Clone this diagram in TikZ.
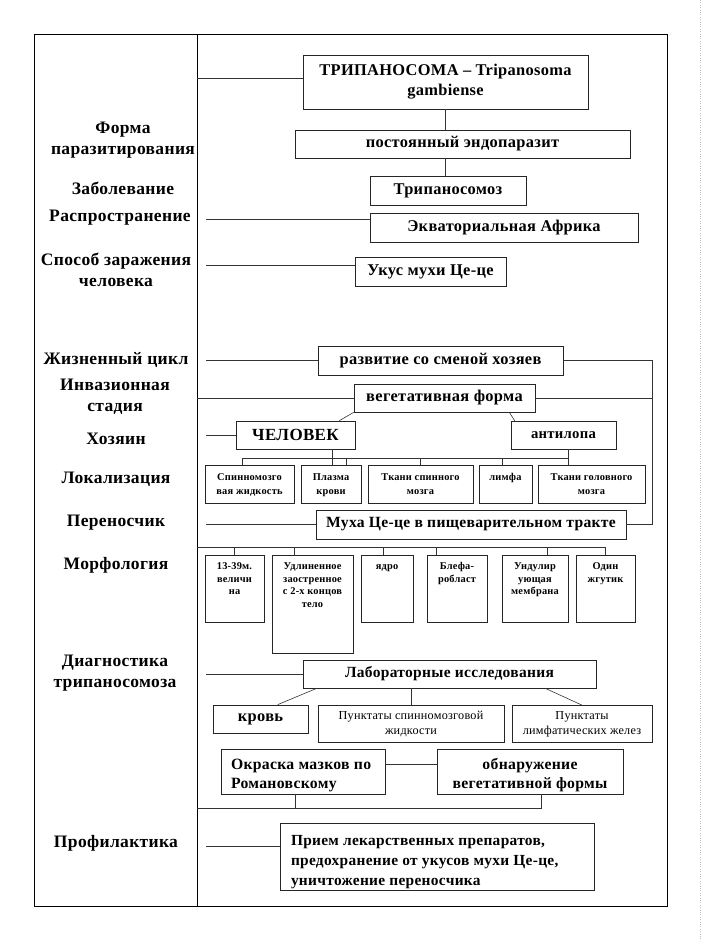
\documentclass[tikz,border=0pt]{standalone}
\usepackage{fontspec}
\setmainfont[LetterSpace=2]{Liberation Serif}
\usetikzlibrary{positioning}

\begin{document}
\begin{tikzpicture}[x=1pt,y=-1pt,
  lbl/.style={font=\fontsize{17.5}{21}\selectfont\bfseries,align=center,inner sep=0pt},
  box/.style={draw=black!85,line width=0.7pt,fill=white,inner sep=0pt,align=center,font=\fontsize{16.4}{20}\selectfont\bfseries},
  morphtext/.style={font=\fontsize{10.4}{12.5}\selectfont\bfseries,align=center,inner sep=0pt},
  loctext/.style={morphtext,font=\fontsize{10.4}{14.5}\selectfont\bfseries},
  thinbox/.style={box,font=\fontsize{12.2}{15}\selectfont},
  link/.style={draw=black!80,line width=0.6pt}]

\useasboundingbox (0,0) rectangle (708,948);

% frame and column
\draw[line width=0.8pt] (34,34) rectangle (667,906);
\draw[line width=0.8pt] (197,34) -- (197,906);
\draw[gray!50,dotted] (700,0) -- (700,940);

% left column
\node[lbl] (form) at (123,140) {Форма\\паразитирования};
\node[lbl] (illness) at (123,188) {Заболевание};
\node[lbl] (spreadlbl) at (120,218) {Распространение};
\node[lbl] (waylbl) at (116,270) {Способ заражения\\человека};
\node[lbl] (cyclelbl) at (116,360) {Жизненный цикл};
\node[lbl] (stagelbl) at (115,397) {Инвазионная\\стадия};
\node[lbl] (hostlbl) at (116,439) {Хозяин};
\node[lbl] (loclbl) at (116,479) {Локализация};
\node[lbl] (vectorlbl) at (116,523) {Переносчик};
\node[lbl] (morphlbl) at (116,565) {Морфология};
\node[lbl] (diaglbl) at (115,673) {Диагностика\\трипаносомоза};
\node[lbl] (proflbl) at (116,843) {Профилактика};

% top boxes
\node[box,minimum width=285pt,minimum height=54pt] (title) at (445.5,82) {ТРИПАНОСОМА – Tripanosoma\\gambiense};
\node[box,minimum width=335pt,minimum height=28pt] (permanent) at (462.5,144) {постоянный эндопаразит};
\node[box,minimum width=156pt,minimum height=29pt] (disease) at (448,190.5) {Трипаносомоз};
\node[box,minimum width=268pt,minimum height=29pt] (spread) at (504,227.5) {Экваториальная Африка};
\node[box,minimum width=151pt,minimum height=29pt] (bite) at (430.5,271.5) {Укус мухи Це-це};

\coordinate (c78) at (197,78);
\coordinate (c219) at (206,219);
\coordinate (c265) at (206,265);
\draw[link] (c78) -- (c78 -| title.west);
\draw[link] (title.south) -- (title.south |- permanent.north);
\draw[link] (title.south |- permanent.south) -- (title.south |- disease.north);
\draw[link] (c219) -- (c219 -| spread.west);
\draw[link] (c265) -- (c265 -| bite.west);

% life cycle
\node[box,minimum width=245pt,minimum height=29pt] (cycle) at (440.5,360.5) {развитие со сменой хозяев};
\node[box,minimum width=181pt,minimum height=28pt] (stage) at (444.5,398) {вегетативная форма};
\node[box,minimum width=119pt,minimum height=28pt,font=\fontsize{17}{20}\selectfont\bfseries] (human) at (295.5,435) {ЧЕЛОВЕК};
\node[box,minimum width=105pt,minimum height=28pt,font=\fontsize{14.7}{17}\selectfont\bfseries] (antelope) at (563.5,435) {антилопа};
\node[box,minimum width=310pt,minimum height=29pt,font=\fontsize{15.6}{20}\selectfont\bfseries] (carrier) at (471,524.5) {Муха Це-це в пищеварительном тракте};

\coordinate (c361) at (206,360.5);
\coordinate (c398) at (197,398);
\coordinate (c435) at (206,435);
\coordinate (c526) at (206,524.5);
\coordinate (brk) at (652,360.5);
\draw[link] (c361) -- (cycle.west);
\draw[link] (cycle.east) -- (brk) |- (carrier.east);
\draw[link] (c398) -- (stage.west);
\draw[link] (stage.east) -- (stage.east -| brk);
\draw[link] (c435) -- (human.west);
\draw[link] (c526) -- (carrier.west);
\draw[link] (stage.south west) -- ([xshift=-16pt]human.north east);
\draw[link] ([xshift=-26pt]stage.south east) -- ([xshift=4pt]antelope.north west);

% localisation
\node[box,minimum width=89pt,minimum height=38pt] (l1) at (249.5,484) {};
\node[box,minimum width=60pt,minimum height=38pt] (l2) at (331,484) {};
\node[box,minimum width=105pt,minimum height=38pt] (l3) at (420.5,484) {};
\node[box,minimum width=53pt,minimum height=38pt] (l4) at (505.5,484) {};
\node[box,minimum width=107pt,minimum height=38pt] (l5) at (591.5,484) {};
\node[loctext,below=5pt of l1.north] (l1t) {\strut Спинномозго\\вая жидкость};
\node[loctext,below=5pt of l2.north] (l2t) {\strut Плазма\\крови};
\node[loctext,below=5pt of l3.north] (l3t) {\strut Ткани спинного\\мозга};
\node[loctext,below=5pt of l4.north] (l4t) {\strut лимфа};
\node[loctext,below=5pt of l5.north] (l5t) {\strut Ткани головного\\мозга};

\foreach \n/\x in {1/242,2/332,3/346,4/420,5/502,6/568}
  \coordinate (lb\n) at (\x,458);
\draw[link] (lb1) -- (lb6);
\draw[link] (lb2 |- human.south) -- (lb2 |- l2.north);
\draw[link] (lb6 |- antelope.south) -- (lb6 |- l5.north);
\foreach \n/\b in {1/l1,3/l2,4/l3,5/l4}
  \draw[link] (lb\n) -- (lb\n |- \b.north);

% morphology
\node[box,minimum width=59pt,minimum height=67pt] (m1) at (234.5,588.5) {};
\node[box,minimum width=81pt,minimum height=98pt] (m2) at (312.5,604) {};
\node[box,minimum width=52pt,minimum height=67pt] (m3) at (387,588.5) {};
\node[box,minimum width=60pt,minimum height=67pt] (m4) at (457,588.5) {};
\node[box,minimum width=66pt,minimum height=67pt] (m5) at (535,588.5) {};
\node[box,minimum width=59pt,minimum height=67pt] (m6) at (605.5,588.5) {};
\node[morphtext,below=6pt of m1.north] (m1t) {\strut 13-39м.\\величи\\на};
\node[morphtext,below=6pt of m2.north] (m2t) {\strut Удлиненное\\заостренное\\с 2-х концов\\тело};
\node[morphtext,below=6pt of m3.north] (m3t) {\strut ядро};
\node[morphtext,below=6pt of m4.north] (m4t) {\strut Блефа-\\робласт};
\node[morphtext,below=6pt of m5.north] (m5t) {\strut Ундулир\\ующая\\мембрана};
\node[morphtext,below=6pt of m6.north] (m6t) {\strut Один\\жгутик};

\coordinate (mb) at (197,547);
\draw[link] (mb) -| (m6.north);
\foreach \n/\x in {1/234,2/294,3/383,4/436,5/547}
  \coordinate (mt\n) at (\x,547);
\foreach \n in {1,...,5}
  \draw[link] (mt\n) -- (mt\n |- m\n.north);

% diagnostics
\node[box,minimum width=293pt,minimum height=28pt,font=\fontsize{15.5}{20}\selectfont\bfseries] (lab) at (449.5,674) {Лабораторные исследования};
\node[box,minimum width=95pt,minimum height=28pt] (blood) at (260.5,719) {кровь};
\node[thinbox,minimum width=186pt,minimum height=37pt] (csf) at (411,724) {Пунктаты спинномозговой\\жидкости};
\node[thinbox,minimum width=140pt,minimum height=37pt] (lymph) at (582,724) {Пунктаты\\лимфатических желез};
\node[box,minimum width=164pt,minimum height=45pt] (stain) at (303,771.5) {};
\node[box,align=left,anchor=west,draw=none,fill=none,font=\fontsize{15.7}{19}\selectfont\bfseries] (staint) at ([xshift=10pt,yshift=-4pt]stain.west) {Окраска мазков по\\Романовскому};
\node[box,minimum width=186pt,minimum height=45pt] (detect) at (530,771.5) {};
\node[box,draw=none,fill=none,font=\fontsize{15.7}{19}\selectfont\bfseries] (detectt) at ([yshift=-4pt]detect.center) {обнаружение\\вегетативной формы};

\coordinate (c674) at (206,674);
\coordinate (c808) at (197,808);
\draw[link] (c674) -- (lab.west);
\draw[link] ([xshift=14pt]lab.south west) -- ([xshift=65pt]blood.north west);
\draw[link] (csf.north |- lab.south) -- (csf.north);
\draw[link] ([xshift=-51pt]lab.south east) -- (lymph.north);
\draw[link] ([yshift=7.5pt]stain.east) -- ([yshift=7.5pt]detect.west);
\draw[link] (c808) -| ([xshift=11pt]detect.south);
\draw[link] ([xshift=-8pt]stain.south) -- ([xshift=-8pt]stain.south |- c808);

% prophylaxis
\node[box,minimum width=314pt,minimum height=67pt] (prof) at (437,856.5) {};
\node[box,align=left,anchor=west,draw=none,fill=none,font=\fontsize{15.4}{20}\selectfont\bfseries] (proft) at ([xshift=11pt,yshift=-5.5pt]prof.west) {Прием лекарственных препаратов,\\предохранение от укусов мухи Це-це,\\уничтожение переносчика};

\coordinate (c846) at (206,846);
\draw[link] (c846) -- (c846 -| prof.west);

\end{tikzpicture}
\end{document}
